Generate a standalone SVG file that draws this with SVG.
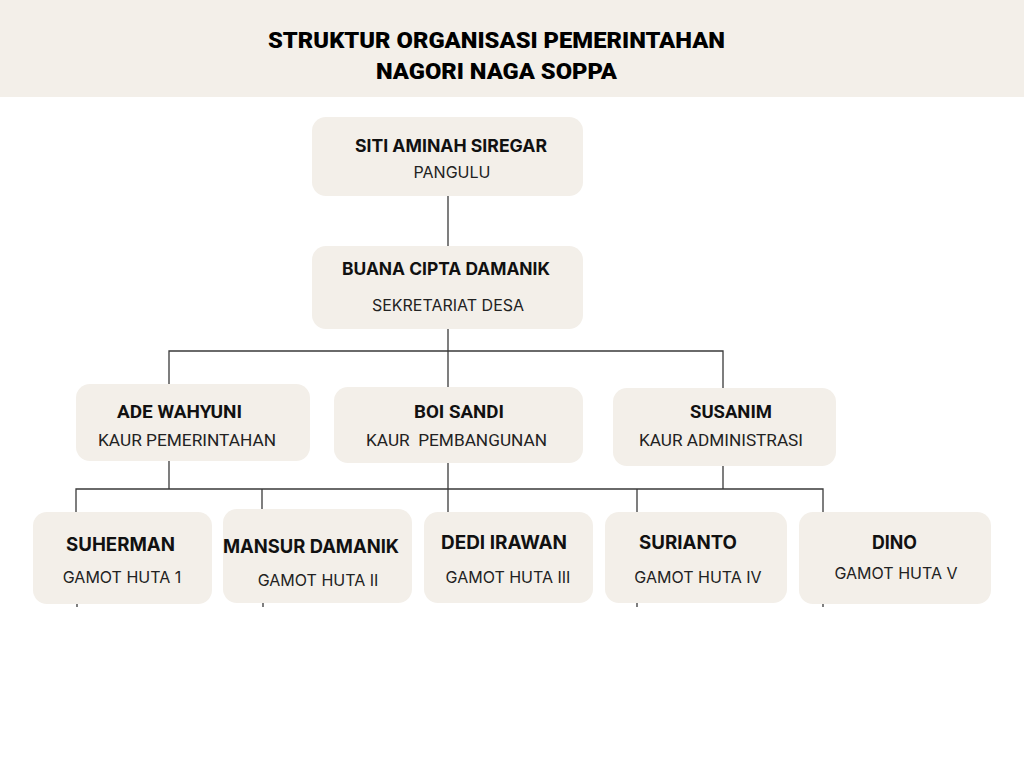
<svg xmlns="http://www.w3.org/2000/svg" width="1024" height="768" viewBox="0 0 1024 768">
<style>
.box{fill:#f3efe9}
.ln{stroke:#3a3a3a;stroke-width:1.3;fill:none}
.nm{font-family:Inter,"Noto Sans",sans-serif;font-weight:700;font-size:17.5px;fill:#111}
.nb{font-family:Inter,"Noto Sans",sans-serif;font-weight:700;font-size:18.5px;fill:#111}
.rl{font-family:Inter,"Noto Sans",sans-serif;font-size:16px;fill:#222}
.cn{font-family:Roboto,"Liberation Sans",sans-serif;font-weight:700;font-size:18px;fill:#111}
.cr{font-family:Roboto,"Liberation Sans",sans-serif;font-size:17px;fill:#222}
.tt{font-family:Roboto,"Liberation Sans",sans-serif;font-weight:900;font-size:22px;fill:#000}
</style>
<rect x="0" y="0" width="1024" height="768" fill="#ffffff"/>
<rect x="0" y="0" width="1024" height="97" fill="#f3efe9"/>
<g id="title">
<text class="tt" x="268" y="48" textLength="457" lengthAdjust="spacingAndGlyphs">STRUKTUR ORGANISASI PEMERINTAHAN</text>
<text class="tt" x="376" y="79" textLength="241" lengthAdjust="spacingAndGlyphs">NAGORI NAGA SOPPA</text>
</g>
<g id="connectors">
<line class="ln" x1="448" y1="196" x2="448" y2="246"/>
<line class="ln" x1="448" y1="329" x2="448" y2="387"/>
<polyline class="ln" points="169,384 169,351 723,351 723,388"/>
<line class="ln" x1="169" y1="461" x2="169" y2="489"/>
<line class="ln" x1="448" y1="463" x2="448" y2="512"/>
<line class="ln" x1="723" y1="466" x2="723" y2="489"/>
<polyline class="ln" points="76,512 76,489 823,489 823,512"/>
<line class="ln" x1="262" y1="489" x2="262" y2="509"/>
<line class="ln" x1="637" y1="489" x2="637" y2="512"/>
<line class="ln" x1="77" y1="604" x2="77" y2="607"/>
<line class="ln" x1="263" y1="603" x2="263" y2="607"/>
<line class="ln" x1="637" y1="603" x2="637" y2="607"/>
<line class="ln" x1="823" y1="604" x2="823" y2="607"/>
</g>
<g id="n-siti">
<rect class="box" x="312" y="117" width="271" height="79" rx="14"/>
<text class="nm" x="355" y="152" textLength="192" lengthAdjust="spacingAndGlyphs">SITI AMINAH SIREGAR</text>
<text class="rl" x="452" y="178" text-anchor="middle">PANGULU</text>
</g>
<g id="n-buana">
<rect class="box" x="312" y="246" width="271" height="83" rx="14"/>
<text class="nm" x="342" y="275" textLength="208" lengthAdjust="spacingAndGlyphs">BUANA CIPTA DAMANIK</text>
<text class="rl" x="448" y="311" text-anchor="middle">SEKRETARIAT DESA</text>
</g>
<g id="n-ade">
<rect class="box" x="76" y="384" width="234" height="77" rx="14"/>
<text class="cn" x="117" y="418" textLength="125" lengthAdjust="spacingAndGlyphs">ADE WAHYUNI</text>
<text class="cr" x="98" y="446" textLength="178" lengthAdjust="spacingAndGlyphs">KAUR PEMERINTAHAN</text>
</g>
<g id="n-boi">
<rect class="box" x="334" y="387" width="249" height="76" rx="14"/>
<text class="cn" x="414" y="418" textLength="90" lengthAdjust="spacingAndGlyphs">BOI SANDI</text>
<text class="cr" x="366" y="446" textLength="181" lengthAdjust="spacingAndGlyphs" xml:space="preserve">KAUR  PEMBANGUNAN</text>
</g>
<g id="n-susanim">
<rect class="box" x="613" y="388" width="223" height="78" rx="14"/>
<text class="cn" x="690" y="418" textLength="82" lengthAdjust="spacingAndGlyphs">SUSANIM</text>
<text class="cr" x="639" y="446" textLength="164" lengthAdjust="spacingAndGlyphs">KAUR ADMINISTRASI</text>
</g>
<g id="n-suherman">
<rect class="box" x="33" y="512" width="179" height="92" rx="14"/>
<text class="nb" x="66" y="551" textLength="109" lengthAdjust="spacingAndGlyphs">SUHERMAN</text>
<text class="rl" x="122" y="583" text-anchor="middle">GAMOT HUTA 1</text>
</g>
<g id="n-mansur">
<rect class="box" x="223" y="509" width="189" height="94" rx="14"/>
<text class="nb" x="223" y="553" textLength="176" lengthAdjust="spacingAndGlyphs">MANSUR DAMANIK</text>
<text class="rl" x="318" y="586" text-anchor="middle">GAMOT HUTA II</text>
</g>
<g id="n-dedi">
<rect class="box" x="424" y="512" width="169" height="91" rx="14"/>
<text class="nb" x="441" y="549" textLength="126" lengthAdjust="spacingAndGlyphs">DEDI IRAWAN</text>
<text class="rl" x="508" y="583" text-anchor="middle">GAMOT HUTA III</text>
</g>
<g id="n-surianto">
<rect class="box" x="605" y="512" width="182" height="91" rx="14"/>
<text class="nb" x="639" y="549" textLength="98" lengthAdjust="spacingAndGlyphs">SURIANTO</text>
<text class="rl" x="698" y="583" text-anchor="middle">GAMOT HUTA IV</text>
</g>
<g id="n-dino">
<rect class="box" x="799" y="512" width="192" height="92" rx="14"/>
<text class="nb" x="872" y="549" textLength="45" lengthAdjust="spacingAndGlyphs">DINO</text>
<text class="rl" x="896" y="579" text-anchor="middle">GAMOT HUTA V</text>
</g>
</svg>
